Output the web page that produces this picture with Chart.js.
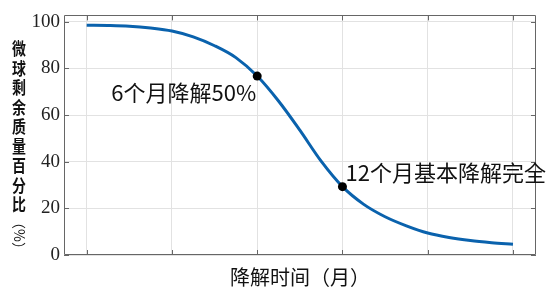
<!DOCTYPE html>
<html>
<head>
<meta charset="utf-8">
<script src="https://cdn.jsdelivr.net/npm/chart.js@4"></script>
<style>
  html, body { margin: 0; padding: 0; background: #fff; }
  #wrap { width: 554px; height: 299px; position: relative; }
</style>
</head>
<body>
<div id="wrap"><canvas id="c"></canvas></div>
<script>
// curve samples (x in grid steps, y in %)
var months = [0, 0.25, 0.5, 0.75, 1, 1.25, 1.5, 1.75, 2, 2.25, 2.5, 2.75, 3, 3.25, 3.5, 3.75, 4, 4.25, 4.5, 4.75, 5];
var remain = [98.5, 98.4, 98.1, 97.3, 96.0, 93.5, 89.7, 84.6, 76.7, 66.0, 53.5, 40.2, 29.3, 21.7, 16.4, 12.5, 9.4, 7.5, 6.2, 5.3, 4.6];
var markX = [2, 3];
var markY = [76.7, 29.3];
var markText = ['6个月降解50%', '12个月基本降解完全'];
var xTicks = [0, 1, 2, 3, 4, 5];
var yTicks = [0, 20, 40, 60, 80, 100];
var xTitle = '降解时间（月）';
var yTitle = ['微', '球', '剩', '余', '质', '量', '百', '分', '比', '（%）'];

(function(){
    var cjk = '"Noto Sans CJK SC", "Noto Sans", sans-serif';

    var boxPlugin = {
        id: 'box',
        afterDraw: function(chart){
            var ctx = chart.ctx, a = chart.chartArea;
            var xs = chart.scales.x, ys = chart.scales.y;
            ctx.save();
            ctx.strokeStyle = '#666';
            ctx.lineWidth = 1;
            ctx.beginPath();
            ctx.rect(Math.round(a.left) + 0.5, Math.round(a.top) + 0.5, Math.round(a.right - a.left) - 1, Math.round(a.bottom - a.top) - 1);
            // inward tick marks
            xTicks.forEach(function(v){
                var px = Math.round(xs.getPixelForValue(v)) + 0.5;
                ctx.moveTo(px, a.bottom); ctx.lineTo(px, a.bottom - 5);
                ctx.moveTo(px, a.top); ctx.lineTo(px, a.top + 5);
            });
            yTicks.forEach(function(v){
                var py = Math.round(ys.getPixelForValue(v)) + 0.5;
                ctx.moveTo(a.left, py); ctx.lineTo(a.left + 5, py);
                ctx.moveTo(a.right, py); ctx.lineTo(a.right - 5, py);
            });
            ctx.stroke();

            // annotations
            ctx.fillStyle = '#111';
            ctx.font = '22px ' + cjk;
            var p0x = xs.getPixelForValue(markX[0]), p0y = ys.getPixelForValue(markY[0]);
            ctx.textAlign = 'right'; ctx.textBaseline = 'top';
            ctx.fillText(markText[0], p0x - 1, p0y + 6);
            var p1x = xs.getPixelForValue(markX[1]), p1y = ys.getPixelForValue(markY[1]);
            ctx.textAlign = 'left'; ctx.textBaseline = 'bottom';
            ctx.fillText(markText[1], p1x + 3, p1y - 3);

            // x title
            ctx.font = '20px ' + cjk;
            ctx.textAlign = 'center'; ctx.textBaseline = 'middle';
            ctx.fillText(xTitle, (a.left + a.right) / 2 + 0, 277);

            // y title, stacked vertically
            ctx.font = 'bold 17px ' + cjk;
            var y = 49;
            yTitle.forEach(function(ch, i){
                if(i === yTitle.length - 1){
                    ctx.save();
                    ctx.translate(19, y + 11);
                    ctx.rotate(Math.PI / 2);
                    ctx.font = '14px ' + cjk;
                    ctx.fillText(ch, 0, 0);
                    ctx.restore();
                } else {
                    ctx.save();
                    ctx.translate(19, y);
                    ctx.scale(0.82, 1);
                    ctx.fillText(ch, 0, 0);
                    ctx.restore();
                }
                y += 19.5;
            });
            ctx.restore();
        }
    };

    var pts = months.map(function(m, i){ return {x: m, y: remain[i]}; });
    var marks = markX.map(function(m, i){ return {x: m, y: markY[i]}; });

    new Chart(document.getElementById('c').getContext('2d'), {
        type: 'scatter',
        data: {
            datasets: [
                { data: marks, showLine: false, pointRadius: 4.5, pointBackgroundColor: '#000', pointBorderColor: '#000', pointBorderWidth: 0 },
                { data: pts, showLine: true, borderColor: '#0a62ad', borderWidth: 3, pointRadius: 0, cubicInterpolationMode: 'monotone', fill: false }
            ]
        },
        plugins: [boxPlugin],
        options: {
            responsive: true,
            maintainAspectRatio: false,
            animation: false,
            layout: { padding: { top: 9, right: 18, left: 0, bottom: 0 } },
            plugins: { legend: { display: false }, tooltip: { enabled: false } },
            scales: {
                x: {
                    type: 'linear', min: -0.266, max: 5.27,
                    afterBuildTicks: function(s){ s.ticks = xTicks.map(function(v){ return {value: v}; }); },
                    afterFit: function(s){ s.height = 44; },
                    ticks: { display: false },
                    grid: { color: '#e2e2e2', drawTicks: false },
                    border: { display: false }
                },
                y: {
                    min: 0, max: 102.7,
                    afterBuildTicks: function(s){ s.ticks = yTicks.map(function(v){ return {value: v}; }); },
                    afterFit: function(s){ s.width = 64; },
                    ticks: { color: '#222', padding: 4, font: { family: '"Liberation Serif", "DejaVu Serif", serif', size: 19 } },
                    grid: { color: '#e2e2e2', drawTicks: false },
                    border: { display: false }
                }
            }
        }
    });
})();
</script>
</body>
</html>
